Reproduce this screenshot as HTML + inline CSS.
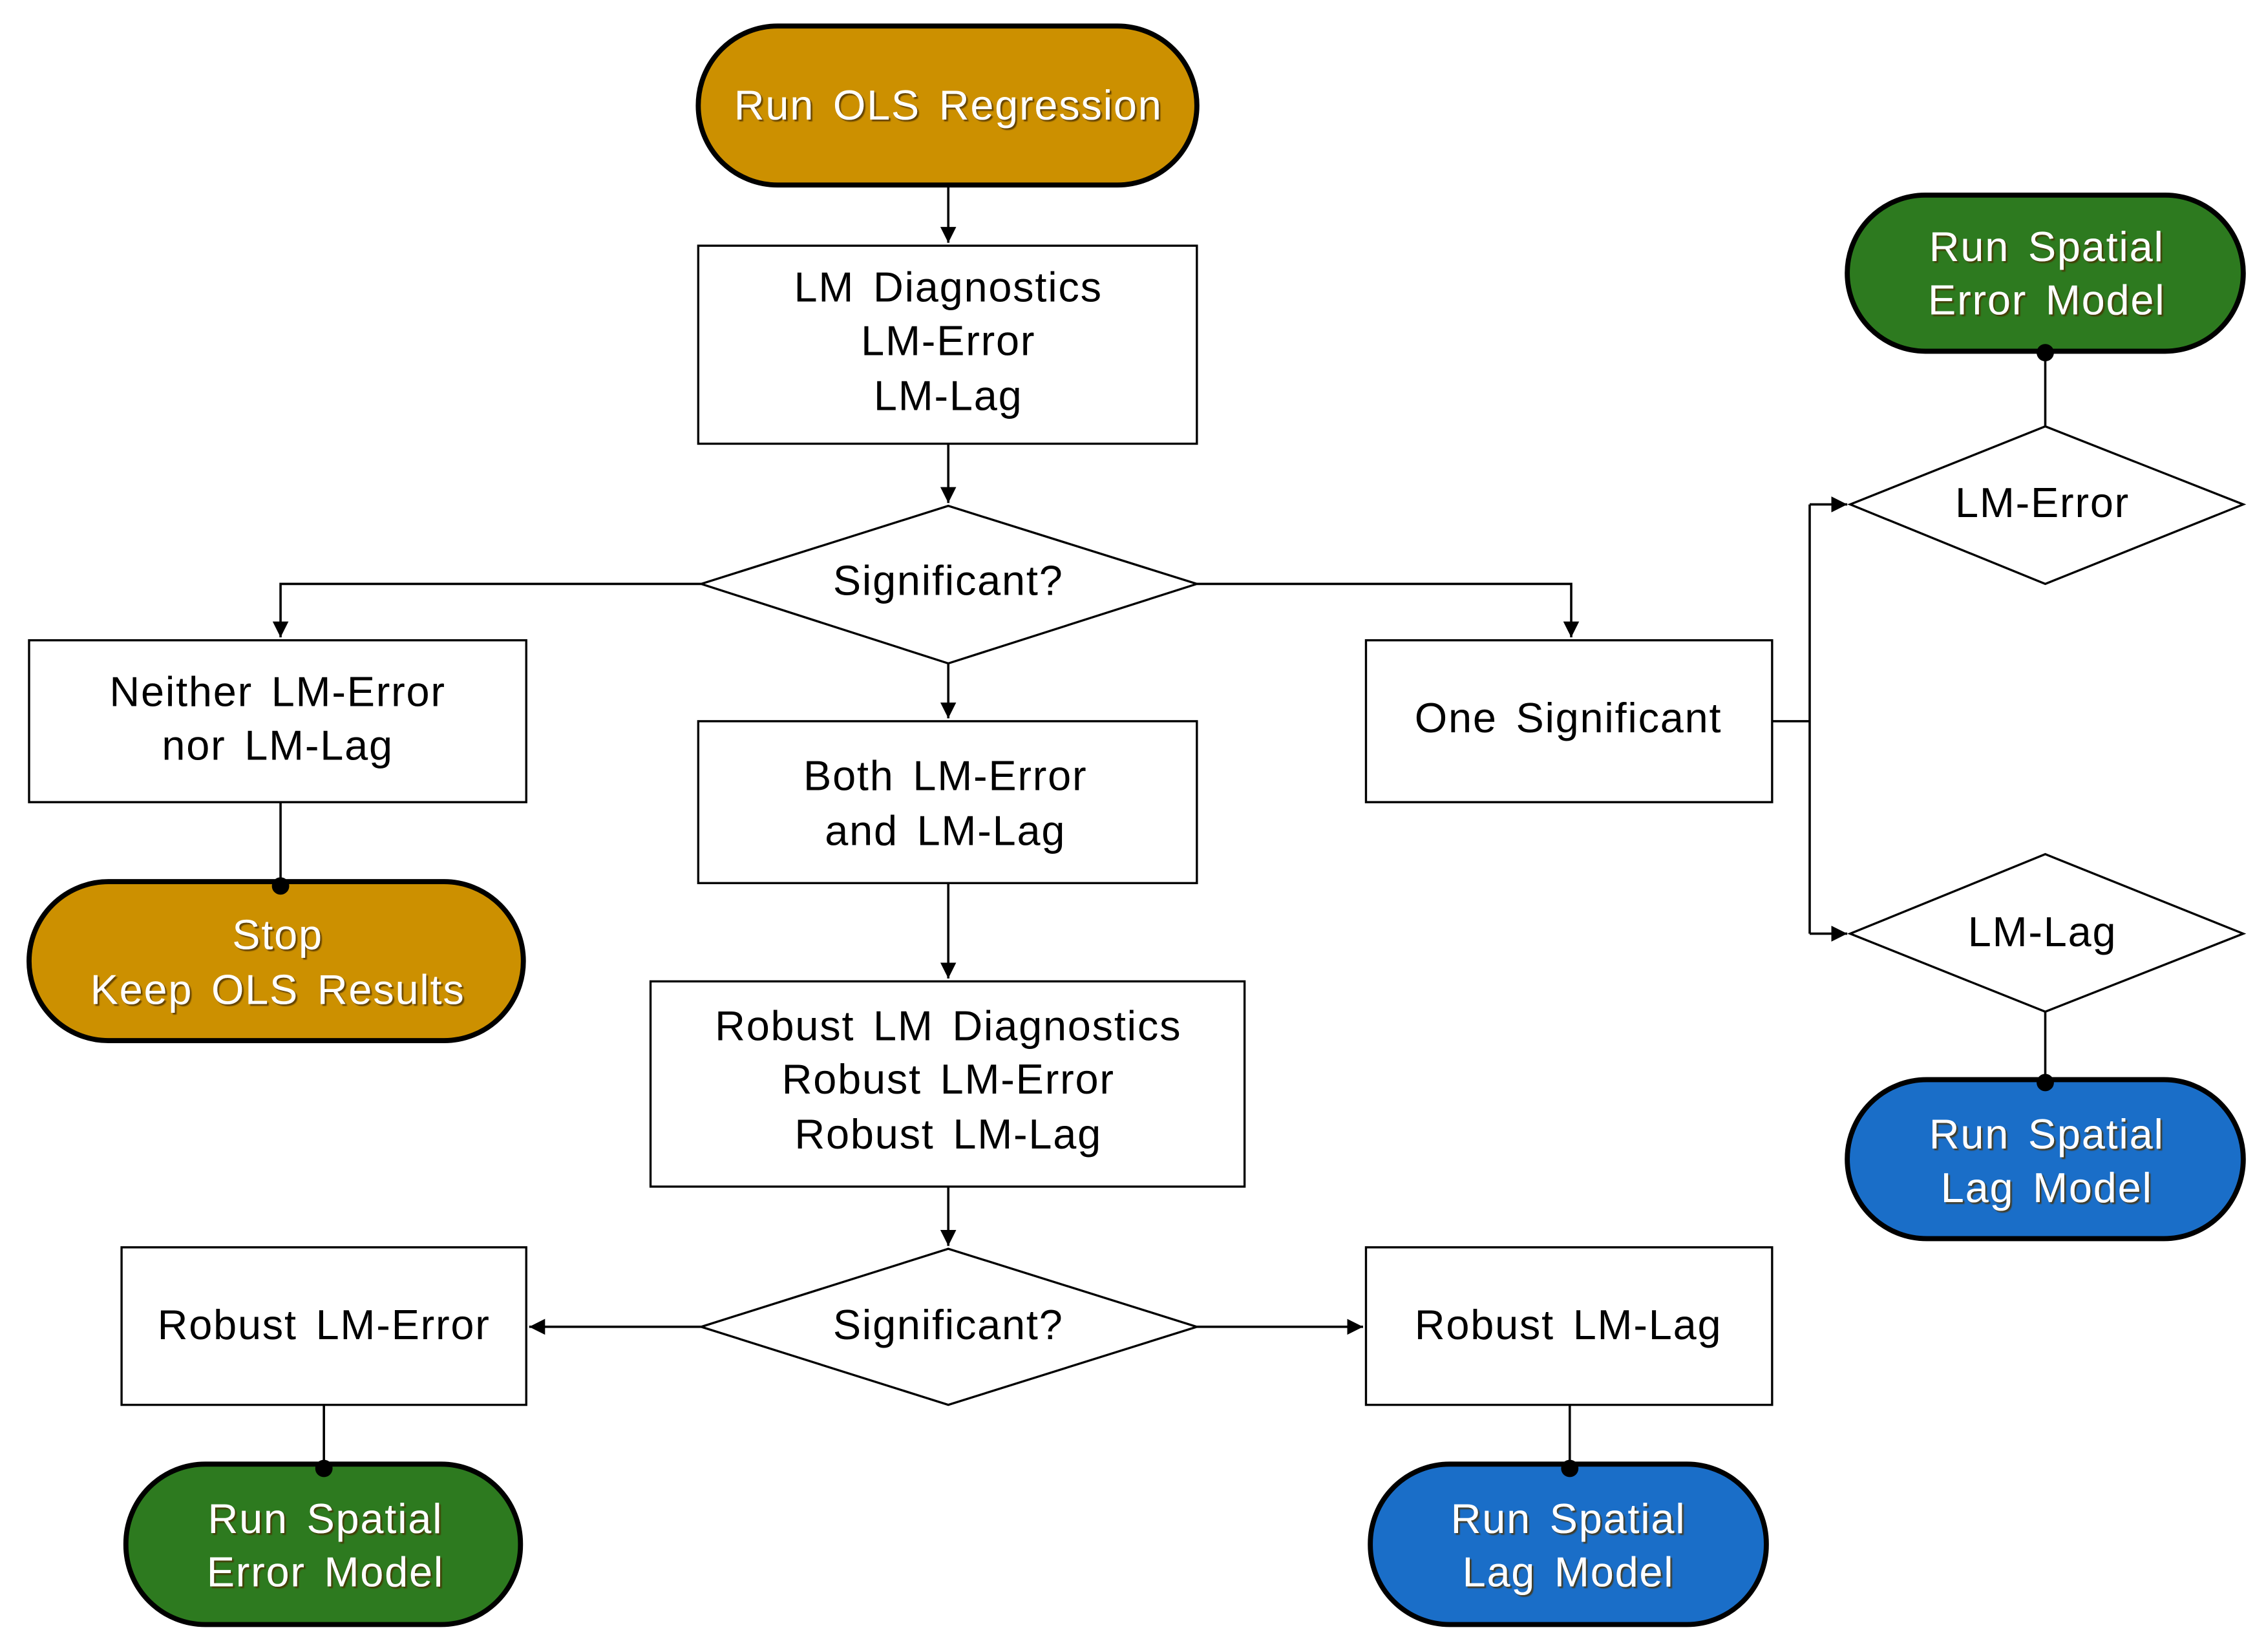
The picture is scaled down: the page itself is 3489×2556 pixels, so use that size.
<!DOCTYPE html>
<html><head><style>
html,body{margin:0;padding:0;background:#fff;}
svg{display:block;}
text{font-family:"Liberation Sans","DejaVu Sans",sans-serif;font-size:29px;letter-spacing:0.8px;word-spacing:4px;text-anchor:middle;dominant-baseline:middle;}
.w{fill:#fff;filter:url(#sh);}
</style></head><body>
<svg width="3489" height="2556" viewBox="0 0 1560 1143" xmlns="http://www.w3.org/2000/svg">
<defs>
<marker id="a" viewBox="0 0 10 10" refX="10" refY="5" markerWidth="11" markerHeight="11" markerUnits="userSpaceOnUse" orient="auto"><path d="M0,0L10,5L0,10z" fill="#000"/></marker>
<filter id="sh" x="-10%" y="-10%" width="120%" height="130%"><feDropShadow dx="1.2" dy="1.2" stdDeviation="0.3" flood-color="#4a3000" flood-opacity="0.8"/></filter>
</defs>
<g fill="#fff" stroke="#000" stroke-width="1.5">
<rect x="483" y="170" width="345" height="137"/>
<polygon points="485,404 656,350 828,404 656,459"/>
<rect x="20" y="443" width="344" height="112"/>
<rect x="483" y="499" width="345" height="112"/>
<rect x="450" y="679" width="411" height="142"/>
<polygon points="485,918 656,864 828,918 656,972"/>
<rect x="84" y="863" width="280" height="109"/>
<rect x="945" y="863" width="281" height="109"/>
<rect x="945" y="443" width="281" height="112"/>
<polygon points="1280,349 1415,295 1552,349 1415,404"/>
<polygon points="1280,646 1415,591 1552,646 1415,700"/>
</g>
<g stroke="#000" stroke-width="3.5">
<rect x="483" y="18" width="345" height="110" rx="55" fill="#CC9000"/>
<rect x="20" y="610" width="342" height="110" rx="55" fill="#CC9000"/>
<rect x="87" y="1013" width="273" height="111" rx="55" fill="#2D7A1F"/>
<rect x="948" y="1013" width="274" height="111" rx="55" fill="#1A6EC8"/>
<rect x="1278" y="135" width="274" height="108" rx="54" fill="#2D7A1F"/>
<rect x="1278" y="747" width="274" height="110" rx="55" fill="#1A6EC8"/>
</g>
<g stroke="#000" stroke-width="1.6" fill="none">
<path d="M656,128V168" marker-end="url(#a)"/>
<path d="M656,307V348" marker-end="url(#a)"/>
<path d="M485,404H194V441" marker-end="url(#a)"/>
<path d="M828,404H1087V441" marker-end="url(#a)"/>
<path d="M656,459V497" marker-end="url(#a)"/>
<path d="M194,555V612"/>
<path d="M656,611V677" marker-end="url(#a)"/>
<path d="M656,821V862" marker-end="url(#a)"/>
<path d="M485,918H366" marker-end="url(#a)"/>
<path d="M828,918H943" marker-end="url(#a)"/>
<path d="M224,972V1015"/>
<path d="M1086,972V1015"/>
<path d="M1226,499H1252M1252,349V646"/>
<path d="M1252,349H1278" marker-end="url(#a)"/>
<path d="M1252,646H1278" marker-end="url(#a)"/>
<path d="M1415,295V244"/>
<path d="M1415,700V749"/>
</g>
<g fill="#000">
<circle cx="194" cy="613" r="6"/><circle cx="224" cy="1016" r="6"/><circle cx="1086" cy="1016" r="6"/>
<circle cx="1415" cy="244" r="6"/><circle cx="1415" cy="749" r="6"/>
</g>
<text class="w" x="656" y="75">Run OLS Regression</text>
<text x="656" y="201">LM Diagnostics</text><text x="656" y="238">LM-Error</text><text x="656" y="276">LM-Lag</text>
<text x="656" y="404">Significant?</text>
<text x="192" y="481">Neither LM-Error</text><text x="192" y="518">nor LM-Lag</text>
<text class="w" x="192" y="649">Stop</text><text class="w" x="192" y="687">Keep OLS Results</text>
<text x="654" y="539">Both LM-Error</text><text x="654" y="577">and LM-Lag</text>
<text x="656" y="712">Robust LM Diagnostics</text><text x="656" y="749">Robust LM-Error</text><text x="656" y="787">Robust LM-Lag</text>
<text x="656" y="919">Significant?</text>
<text x="224" y="919">Robust LM-Error</text>
<text x="1085" y="919">Robust LM-Lag</text>
<text class="w" x="225" y="1053">Run Spatial</text><text class="w" x="225" y="1090">Error Model</text>
<text class="w" x="1085" y="1053">Run Spatial</text><text class="w" x="1085" y="1090">Lag Model</text>
<text x="1085" y="499">One Significant</text>
<text class="w" x="1416" y="173">Run Spatial</text><text class="w" x="1416" y="210">Error Model</text>
<text x="1413" y="350">LM-Error</text>
<text x="1413" y="647">LM-Lag</text>
<text class="w" x="1416" y="787">Run Spatial</text><text class="w" x="1416" y="824">Lag Model</text>
</svg>
</body></html>
